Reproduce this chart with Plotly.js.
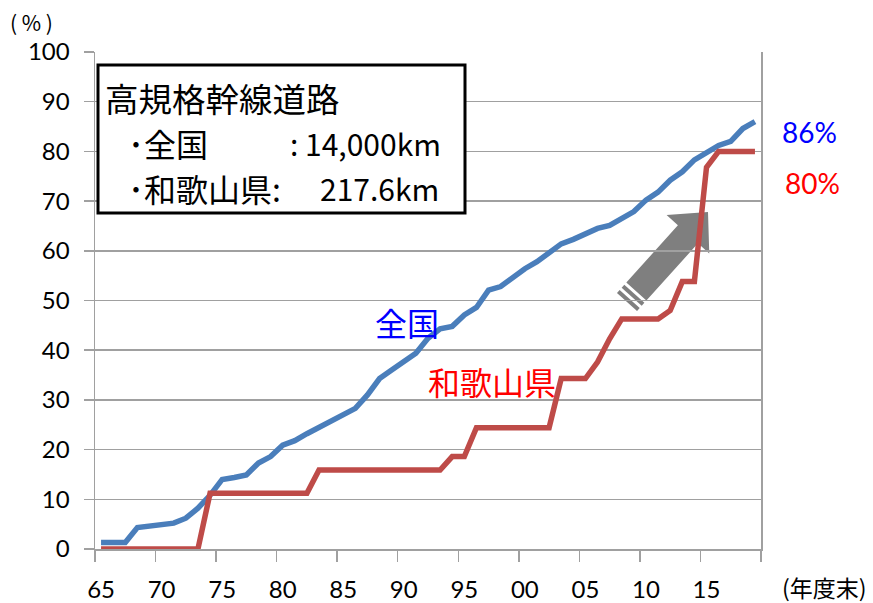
<!DOCTYPE html>
<html>
<head>
<meta charset="utf-8">
<script src="https://cdn.plot.ly/plotly-3.0.1.min.js"></script>
<style>
  html, body { margin: 0; padding: 0; background: #fff; }
  #chart { width: 873px; height: 603px; }
</style>
</head>
<body>
<div id="chart"></div>
<script>
// Fiscal year ends
const years = [
  1965, 1966, 1967, 1968, 1969, 1970, 1971, 1972, 1973, 1974,
  1975, 1976, 1977, 1978, 1979, 1980, 1981, 1982, 1983, 1984,
  1985, 1986, 1987, 1988, 1989, 1990, 1991, 1992, 1993, 1994,
  1995, 1996, 1997, 1998, 1999, 2000, 2001, 2002, 2003, 2004,
  2005, 2006, 2007, 2008, 2009, 2010, 2011, 2012, 2013, 2014,
  2015, 2016, 2017, 2018, 2019
];

// Completion rate of high-standard arterial roads (%), nationwide
const zenkoku = [
  1.3, 1.3, 1.3, 4.3, 4.6, 4.8, 5.2, 6.2, 8.2, 10.8,
  14.0, 14.4, 14.9, 17.3, 18.6, 20.9, 21.8, 23.2, 24.5, 26.0,
  27.3, 28.3, 31.0, 34.3, 36.0, 37.7, 39.4, 42.4, 44.3, 44.8,
  47.1, 48.6, 52.1, 52.8, 54.6, 56.4, 57.8, 59.5, 61.4, 62.3,
  63.5, 64.5, 65.1, 66.6, 67.9, 70.2, 71.8, 74.2, 75.9, 78.3,
  79.7, 81.2, 82.0, 84.6, 86.0
];

// Completion rate (%), Wakayama Prefecture
const wakayama = [
  0, 0, 0, 0, 0, 0, 0, 0, 0, 11.2,
  11.2, 11.2, 11.2, 11.2, 11.2, 11.2, 11.2, 11.2, 15.9, 15.9,
  15.9, 15.9, 15.9, 15.9, 15.9, 15.9, 15.9, 15.9, 15.9, 18.6,
  18.6, 24.4, 24.4, 24.4, 24.4, 24.4, 24.4, 24.4, 34.3, 34.3,
  34.3, 37.6, 42.3, 46.3, 46.3, 46.3, 46.3, 48.0, 53.8, 53.8,
  76.8, 80.0, 80.0, 80.0, 80.0
];

// Category labels every five years (1965, 1970, ... 2015)
const tickLabels = ['65', '70', '75', '80', '85', '90', '95', '00', '05', '10', '15'];

const seriesNames = ['全国', '和歌山県'];
const boxTitle = '高規格幹線道路';
const boxRows = [['･全国', ': 14,000km'], ['･和歌山県:', '217.6km']];

const W = 873, H = 603;
const M = { l: 95, r: 112, t: 52, b: 54 };
const PW = W - M.l - M.r, PH = H - M.t - M.b;
const toPx = x => (x - M.l) / PW;
const toPy = y => (H - M.b - y) / PH;

const BLUE = '#4a7ebb', RED = '#be4b48', GRID = '#a0a0a0';
const CJK = "'Noto Sans CJK JP', sans-serif";
const LAT = "Lato, 'Noto Sans', sans-serif";

const traces = [
  { x: years, y: zenkoku, name: seriesNames[0], mode: 'lines',
    line: { color: BLUE, width: 5.5 }, hoverinfo: 'skip' },
  { x: years, y: wakayama, name: seriesNames[1], mode: 'lines',
    line: { color: RED, width: 5.5 }, hoverinfo: 'skip' }
];

// Striped block arrow pointing up-right
function arrowShapes() {
  const tail = [627, 302], tip = [708, 212];
  const dx = tip[0] - tail[0], dy = tip[1] - tail[1];
  const len = Math.hypot(dx, dy);
  const u = [dx / len, dy / len], n = [-u[1], u[0]];
  const P = (s, w) => [tail[0] + u[0] * s + n[0] * w, tail[1] + u[1] * s + n[1] * w];
  const path = pts => 'M ' + pts.map(p => toPx(p[0]).toFixed(5) + ',' + toPy(p[1]).toFixed(5)).join(' L ') + ' Z';
  const sw = 13.5, hw = 28.7, hb = len - 30;
  const strip = (a, b) => path([P(a, sw), P(b, sw), P(b, -sw), P(a, -sw)]);
  const body = path([P(14, sw), P(hb, sw), P(hb, hw), tip, P(hb, -hw), P(hb, -sw), P(14, -sw)]);
  const base = { type: 'path', xref: 'paper', yref: 'paper', fillcolor: '#7f7f7f',
                 line: { width: 0 }, layer: 'between' };
  return [strip(0, 4), strip(7, 11), body].map(p => Object.assign({ path: p }, base));
}

const shapes = [
  { type: 'rect', xref: 'paper', yref: 'paper', layer: 'above',
    x0: toPx(98), x1: toPx(465), y0: toPy(213), y1: toPy(65),
    fillcolor: '#ffffff', line: { color: '#000000', width: 3 } }
].concat(arrowShapes());

const ann = (text, x, y, opts) => Object.assign({
  text, xref: 'paper', yref: 'paper', x: toPx(x), y: toPy(y),
  showarrow: false, xanchor: 'left', yanchor: 'middle',
  font: { family: CJK, size: 32, color: '#000' }
}, opts || {});

const lastZ = zenkoku[zenkoku.length - 1];
const lastW = wakayama[wakayama.length - 1];

const annotations = [
  ann(boxTitle, 103, 97, { font: { family: CJK, size: 33.5, color: '#000' } }),
  ann(boxRows[0][0], 126, 143),
  ann(boxRows[0][1], 288, 143, { font: { family: CJK, size: 30, color: '#000' } }),
  ann(boxRows[1][0], 126, 188),
  ann(boxRows[1][1], 318, 188, { font: { family: CJK, size: 30, color: '#000' } }),
  ann(seriesNames[0], 407, 322, { xanchor: 'center', font: { family: CJK, size: 32, color: '#0000ff' } }),
  ann(seriesNames[1], 492, 381, { xanchor: 'center', font: { family: CJK, size: 32, color: '#ff0000' } }),
  ann(Math.round(lastZ) + '%', 809, 132, { xanchor: 'center', font: { family: LAT, size: 28, color: '#0000ff' } }),
  ann(Math.round(lastW) + '%', 812, 183, { xanchor: 'center', font: { family: LAT, size: 28, color: '#ff0000' } }),
  ann('( % )', 31, 22, { xanchor: 'center', font: { family: CJK, size: 21, color: '#000' } }),
  ann('(年度末)', 824, 587, { xanchor: 'center', font: { family: CJK, size: 23, color: '#000' } })
];

// Labels sit under the category centres; tick marks on the five-year boundaries
const labelVals = tickLabels.map((_, i) => years[0] + 5 * i);
const boundaryVals = [];
for (let v = years[0] - 0.5; v <= years[years.length - 1] + 0.5; v += 5) boundaryVals.push(v);

const layout = {
  width: W, height: H,
  margin: M,
  paper_bgcolor: '#ffffff', plot_bgcolor: '#ffffff',
  showlegend: false,
  font: { family: LAT, color: '#000' },
  xaxis: {
    range: [years[0] - 0.5, years[years.length - 1] + 0.5],
    tickmode: 'array', tickvals: labelVals, ticktext: tickLabels,
    ticks: 'outside', ticklen: 11, tickwidth: 1.5, tickcolor: 'rgba(0,0,0,0)',
    ticklabelstandoff: 8,
    minor: { tickmode: 'array', tickvals: boundaryVals, ticks: 'outside',
             ticklen: 11, tickwidth: 1.5, tickcolor: GRID, showgrid: false },
    showline: true, linecolor: GRID, linewidth: 1.5,
    showgrid: false, zeroline: false, fixedrange: true,
    tickfont: { family: LAT, size: 24, color: '#000' }
  },
  yaxis: {
    range: [0, 100], dtick: 10, tick0: 0,
    ticks: 'outside', ticklen: 10, tickwidth: 1.5, tickcolor: GRID,
    ticklabelstandoff: 9,
    showline: true, mirror: true, linecolor: GRID, linewidth: 1.5,
    showgrid: true, gridcolor: GRID, gridwidth: 1.5,
    zeroline: false, fixedrange: true,
    tickfont: { family: LAT, size: 24, color: '#000' }
  },
  shapes, annotations
};

Plotly.newPlot('chart', traces, layout, { staticPlot: true, displayModeBar: false });
</script>
</body>
</html>
